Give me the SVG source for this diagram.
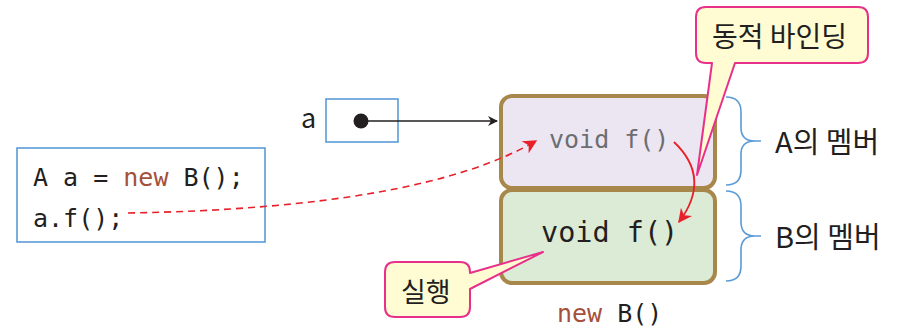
<svg xmlns="http://www.w3.org/2000/svg" width="897" height="329" viewBox="0 0 897 329">
<defs>
<style>
.mono{font-family:"DejaVu Sans Mono","Liberation Mono",monospace;fill:#231f20}
.kr{font-family:"Noto Sans CJK KR","Noto Sans",sans-serif;fill:#231f20}
.kw{fill:#a5503a}
.blue{fill:none;stroke:#5b9bd5;stroke-width:1.6}
.brace{fill:none;stroke:#5b9bd5;stroke-width:1.6}
.obj{stroke:#a8884a;stroke-width:4}
.callout{fill:#fffbd2;stroke:#e8308a;stroke-width:2;stroke-linejoin:round}
</style>
<marker id="blackArrow" viewBox="0 0 10 10" refX="9" refY="5" markerWidth="10" markerHeight="10" markerUnits="userSpaceOnUse" orient="auto">
<path d="M0,0 L10,5 L0,10 L3,5 Z" fill="#231f20"/>
</marker>
<marker id="redArrow" viewBox="0 0 10 10" refX="9" refY="5" markerWidth="16" markerHeight="14" markerUnits="userSpaceOnUse" orient="auto">
<path d="M0,0 L10,5 L0,10 L3,5 Z" fill="#e8202a"/>
</marker>
</defs>
<rect width="897" height="329" fill="#ffffff"/>

<g id="code">
<rect x="17" y="148" width="248" height="94" class="blue"/>
<text x="33" y="186" class="mono" font-size="25">A a = <tspan class="kw">new</tspan> B();</text>
<text x="33" y="227" class="mono" font-size="25">a.f();</text>
</g>

<g id="ref-a">
<text x="301" y="128" class="kr" font-size="27">a</text>
<rect x="326" y="99" width="72" height="43" class="blue"/>
<circle cx="361" cy="121" r="7.5" fill="#231f20"/>
</g>

<g id="object">
<rect x="501" y="96" width="214" height="92" rx="11" fill="#ece6f2" class="obj"/>
<rect x="501" y="190" width="214" height="93" rx="11" fill="#dcebd6" class="obj"/>
<text x="549" y="148" class="mono" font-size="25" style="fill:#6d6e71">void f()</text>
<text x="541" y="242" class="mono" font-size="28.5">void f()</text>
<text x="557" y="322" class="mono" font-size="25"><tspan class="kw">new</tspan> B()</text>
</g>

<g id="brace-a">
<path class="brace" d="M726,97 Q741,97 741,112 L741,128 Q741,141 755,141 L761,141 M755,141 Q741,141 741,154 L741,170 Q741,185 726,185"/>
<text x="775" y="153" class="kr" font-size="29">A의 멤버</text>
</g>

<g id="brace-b">
<path class="brace" d="M726,191 Q741,191 741,206 L741,222 Q741,236 755,236 L761,236 M755,236 Q741,236 741,250 L741,266 Q741,281 726,281"/>
<text x="775" y="248" class="kr" font-size="29">B의 멤버</text>
</g>

<g id="connectors">
<line x1="361" y1="121" x2="497" y2="121" stroke="#231f20" stroke-width="1.4" marker-end="url(#blackArrow)"/>
<path d="M128,213 Q420,208 536,141" fill="none" stroke="#e8202a" stroke-width="1.6" stroke-dasharray="7,5" marker-end="url(#redArrow)"/>
<path d="M674,142 Q712,178 679,222" fill="none" stroke="#e8202a" stroke-width="1.8" marker-end="url(#redArrow)"/>
</g>

<g id="callout-binding">
<path class="callout" d="M706,7 L858,7 Q868,7 868,17 L868,53 Q868,63 858,63 L735,63 L697,175 L712,63 L706,63 Q696,63 696,53 L696,17 Q696,7 706,7 Z"/>
<text x="712" y="47" class="kr" font-size="28">동적 바인딩</text>
</g>

<g id="callout-run">
<path class="callout" d="M395,262 L460,262 Q470,262 470,272 L470,273 L543,252 L470,289 L470,307 Q470,317 460,317 L395,317 Q385,317 385,307 L385,272 Q385,262 395,262 Z"/>
<text x="401" y="302" class="kr" font-size="27">실행</text>
</g>
</svg>
